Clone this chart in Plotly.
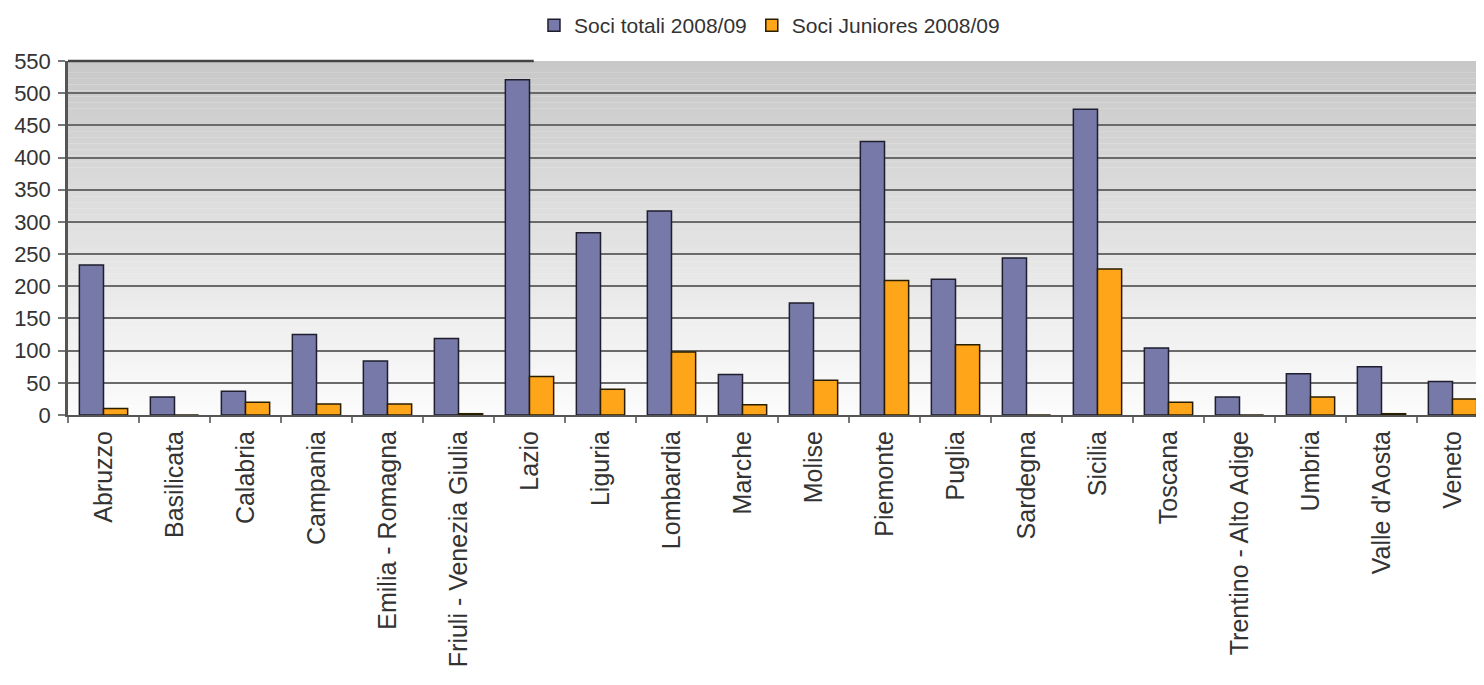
import plotly.graph_objects as go

regions = ["Abruzzo", "Basilicata", "Calabria", "Campania", "Emilia - Romagna",
           "Friuli - Venezia Giulia", "Lazio", "Liguria", "Lombardia", "Marche",
           "Molise", "Piemonte", "Puglia", "Sardegna", "Sicilia", "Toscana",
           "Trentino - Alto Adige", "Umbria", "Valle d'Aosta", "Veneto"]
soci_totali = [233, 28, 37, 125, 84, 119, 521, 283, 317, 63,
               174, 425, 211, 244, 475, 104, 28, 64, 75, 52]
soci_juniores = [10, 0, 20, 17, 17, 2, 60, 40, 98, 16,
                 54, 209, 109, 0, 227, 20, 0, 28, 2, 25]
y_ticks = list(range(0, 551, 50))
grid_vals = list(range(50, 550, 50))

FONT = "Liberation Sans, Arial, sans-serif"
TXT = "#333333"

fig = go.Figure()
fig.add_trace(go.Bar(x=regions, y=soci_totali, name="Soci totali 2008/09",
                     marker=dict(color="#7779A9", line=dict(color="#1E1E2E", width=1.5))))
fig.add_trace(go.Bar(x=regions, y=soci_juniores, name="Soci Juniores 2008/09",
                     marker=dict(color="#FFA51A", line=dict(color="#2A1E00", width=1.5))))

# gradient background bands (paper coordinates)
shapes = []
n = 60
for i in range(n):
    t = i / (n - 1)  # 0 at bottom, 1 at top
    g = int(round(252 - (252 - 200) * t))
    shapes.append(dict(type="rect", xref="paper", yref="paper",
                       x0=0, x1=1, y0=i / n, y1=(i + 1) / n,
                       fillcolor=f"rgb({g},{g},{g})", line=dict(width=0), layer="below"))
# partial top border
shapes.append(dict(type="line", xref="paper", yref="paper", x0=0, x1=0.328, y0=1, y1=1,
                   line=dict(color="#444444", width=2.5), layer="above"))

fig.update_layout(
    width=1484, height=685,
    margin=dict(l=60, r=4, t=53, b=278, autoexpand=False),
    paper_bgcolor="white", plot_bgcolor="#F4F4F4",
    font=dict(family=FONT, color=TXT),
    barmode="group", bargap=0.32, bargroupgap=0,
    shapes=shapes,
    showlegend=True,
    legend=dict(orientation="h", x=0.494, xanchor="center", y=1.10, yanchor="middle",
                font=dict(size=21, family=FONT, color=TXT), bgcolor="rgba(0,0,0,0)",
                itemwidth=30, traceorder="normal"),
    xaxis=dict(range=[-0.5, len(regions) - 0.5], autorange=False, automargin=False,
               tickangle=-90, tickfont=dict(size=25, family=FONT, color=TXT),
               ticklabelstandoff=4,
               showline=True, linecolor="#555555", linewidth=2,
               ticks="outside", tickson="boundaries", ticklen=6, tickcolor="#777777",
               tickwidth=1.5, showgrid=False),
    yaxis=dict(range=[0, 550], tickvals=y_ticks, ticktext=[str(v) for v in y_ticks],
               automargin=False,
               tickfont=dict(size=22, family=FONT, color=TXT), ticklabelstandoff=3,
               showline=True, linecolor="#555555", linewidth=2.5,
               ticks="outside", ticklen=7, tickcolor="#777777", tickwidth=1.5,
               showgrid=False, zeroline=False),
    yaxis2=dict(range=[0, 550], overlaying="y", tickvals=grid_vals, showticklabels=False,
                showgrid=True, gridcolor="#6A6A6A", gridwidth=2.4, ticks="",
                showline=False, zeroline=False, side="left", automargin=False),
)
# invisible trace to activate yaxis2 gridlines
fig.add_trace(go.Scatter(x=[regions[0]], y=[0], yaxis="y2", mode="markers",
                         marker=dict(opacity=0), showlegend=False, hoverinfo="skip"))

fig.write_html("out.html")
